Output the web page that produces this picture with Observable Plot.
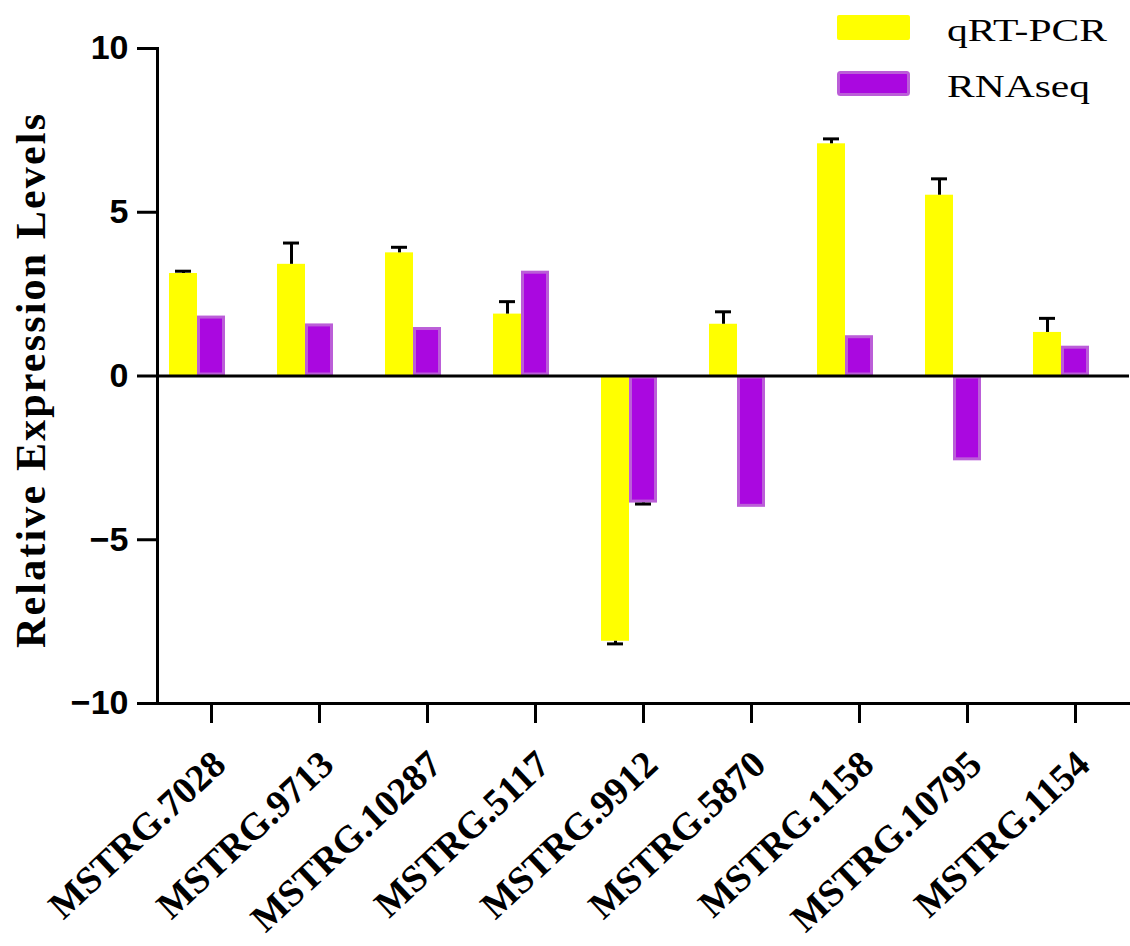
<!DOCTYPE html>
<html><head><meta charset="utf-8">
<script src="https://cdn.jsdelivr.net/npm/d3@7"></script>
<script src="https://cdn.jsdelivr.net/npm/@observablehq/plot@0.6"></script>
<style>
body{margin:0;background:#fff}
#wrap{position:relative;width:1130px;height:946px}
#legend{position:absolute;left:0;top:0}
</style></head><body><div id="wrap"></div>
<script>
const genes = ["MSTRG.7028","MSTRG.9713","MSTRG.10287","MSTRG.5117","MSTRG.9912","MSTRG.5870","MSTRG.1158","MSTRG.10795","MSTRG.1154"];
const qpcr = [3.13, 3.41, 3.76, 1.89, -8.10, 1.58, 7.09, 5.52, 1.33];
const qpcrErr = [0.07, 0.65, 0.17, 0.38, 0.08, 0.38, 0.15, 0.50, 0.43];
const rnaseq = [1.83, 1.59, 1.48, 3.20, -3.88, -4.01, 1.23, -2.59, 0.91];
const rnaseqErr = [0, 0, 0, 0, 0.03, 0, 0, 0, 0];
const series = ["qRT-PCR", "RNAseq"];
const fills = ["#ffff00", "#aa08e0"];
const yTicks = [-10, -5, 0, 5, 10];

const rows = genes.map((g, i) => ({gene: g, q: qpcr[i], qe: qpcrErr[i], r: rnaseq[i], re: rnaseqErr[i]}));
const qErrRows = rows.filter(d => d.qe > 0).map(d => ({gene: d.gene, v: d.q, e: d.q + Math.sign(d.q) * d.qe}));
const rErrRows = rows.filter(d => d.re > 0).map(d => ({gene: d.gene, v: d.r, e: d.r + Math.sign(d.r) * d.re}));

const serif = "Liberation Serif, Times New Roman, serif";
const chart = Plot.plot({
  width: 1130, height: 946,
  marginLeft: 157, marginRight: 1, marginTop: 48, marginBottom: 243,
  style: {background: "#fff", color: "#000", overflow: "visible"},
  x: {domain: genes, paddingInner: 0.48, paddingOuter: 0.24},
  y: {domain: [-10, 10]},
  marks: [
    Plot.barY(rows, {x: "gene", y: "q", fill: fills[0], insetRight: 28, dx: -14}),
    Plot.barY(rows, {x: "gene", y: "r", fill: fills[1], stroke: "#bb5ed8", strokeWidth: 3,
      insetLeft: 29.5, insetRight: 1.5, insetTop: 1.5, insetBottom: 1.5, dx: -14}),
    Plot.ruleX(qErrRows, {x: "gene", y1: "v", y2: "e", stroke: "#000", strokeWidth: 3, dx: -28}),
    Plot.tickY(qErrRows, {x: "gene", y: "e", stroke: "#000", strokeWidth: 3, insetLeft: 20, insetRight: 20, dx: -28}),
    Plot.ruleX(rErrRows, {x: "gene", y1: "v", y2: "e", stroke: "#000", strokeWidth: 3, dx: 0}),
    Plot.tickY(rErrRows, {x: "gene", y: "e", stroke: "#000", strokeWidth: 3, insetLeft: 20, insetRight: 20, dx: 0}),
    Plot.ruleY([0], {stroke: "#000", strokeWidth: 3}),
    Plot.frame({anchor: "left", stroke: "#000", strokeWidth: 3}),
    Plot.frame({anchor: "bottom", stroke: "#000", strokeWidth: 3}),
    Plot.axisY({ticks: yTicks, tickSize: 20, tickPadding: 9, strokeWidth: 3,
      fontSize: 34, fontWeight: "bold", fontFamily: "Liberation Sans, Arial, sans-serif",
      label: "Relative Expression Levels", labelAnchor: "center", labelArrow: "none", labelOffset: 142}),
    Plot.axisX({tickSize: 20, strokeWidth: 3, text: null, label: null}),
    Plot.axisX({tickSize: 0, tickPadding: 55, tickRotate: -43,
      fontSize: 38, fontWeight: "bold", fontFamily: serif,
      label: null, dx: 8})
  ]
});

// style the y-axis label
const yl = chart.querySelector('[aria-label="y-axis label"] text') || chart.querySelector('[aria-label="y-axis label"]');
if (yl) {
  yl.setAttribute("font-size", 42);
  yl.setAttribute("font-family", serif);
  yl.setAttribute("font-weight", "bold");
  yl.setAttribute("textLength", 534);
  yl.setAttribute("lengthAdjust", "spacing");
  yl.setAttribute("dx", -5);
}
document.getElementById("wrap").appendChild(chart);

// legend overlay
const ns = "http://www.w3.org/2000/svg";
const lg = document.createElementNS(ns, "svg");
lg.setAttribute("id", "legend");
lg.setAttribute("width", 1130);
lg.setAttribute("height", 110);
const lens = [160, 143];
series.forEach((s, i) => {
  const y0 = 15 + i * 56;
  const r = document.createElementNS(ns, "rect");
  if (i === 0) {
    r.setAttribute("x", 837); r.setAttribute("y", y0); r.setAttribute("width", 73); r.setAttribute("height", 25);
  } else {
    r.setAttribute("x", 838.5); r.setAttribute("y", y0 + 1.5); r.setAttribute("width", 70); r.setAttribute("height", 22);
    r.setAttribute("stroke", "#bb5ed8"); r.setAttribute("stroke-width", 3);
  }
  r.setAttribute("rx", 2);
  r.setAttribute("fill", fills[i]);
  lg.appendChild(r);
  const t = document.createElementNS(ns, "text");
  t.setAttribute("x", 947); t.setAttribute("y", y0 + 26);
  t.setAttribute("font-family", serif);
  t.setAttribute("font-size", 31);
  t.setAttribute("textLength", lens[i]);
  t.setAttribute("lengthAdjust", "spacingAndGlyphs");
  t.textContent = s;
  lg.appendChild(t);
});
document.getElementById("wrap").appendChild(lg);
</script></body></html>
